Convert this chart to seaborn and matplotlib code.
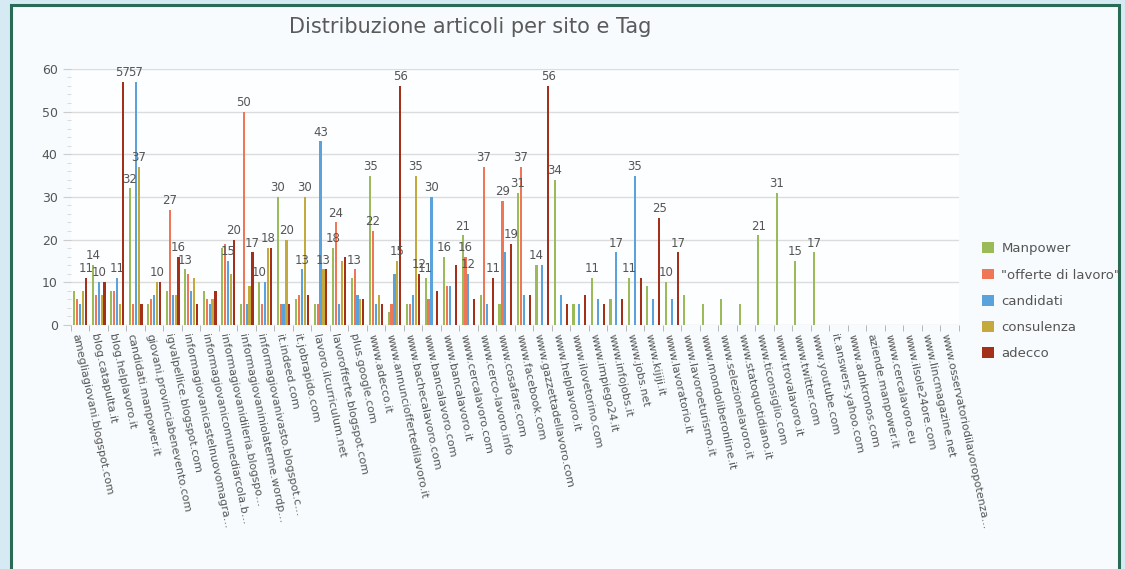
import matplotlib
matplotlib.use('Agg')
import matplotlib.pyplot as plt
from matplotlib.patches import Rectangle
from matplotlib.ticker import MultipleLocator
import pandas as pd
import seaborn as sns

# siti (asse x)
siti = [
    'amegliagiovani.blogspot.com', 'blog.catapulta.it', 'blog.helplavoro.it',
    'candidati.manpower.it', 'giovani.provinciabenevento.com', 'igvalpellice.blogspot.com',
    'informagiovanicastelnuovomagra...', 'informagiovanicomunediarcola.b...',
    'informagiovanidileria.blogspo...', 'informagiovaniniolaterme.wordp...',
    'informagiovanivasto.blogspot.c...', 'it.indeed.com', 'it.jobrapido.com',
    'lavoro.ilcurriculum.net', 'lavorofferte.blogspot.com', 'plus.google.com',
    'www.adecco.it', 'www.annuncioffertedilavoro.it', 'www.bachecalavoro.com',
    'www.bancalavoro.com', 'www.bancalavoro.it', 'www.cercalavoro.com',
    'www.cerco-lavoro.info', 'www.cosafare.com', 'www.facebook.com',
    'www.gazzettadellavoro.com', 'www.helplavoro.it', 'www.ilovetorino.com',
    'www.impiego24.it', 'www.infojobs.it', 'www.jobs.net', 'www.kijiji.it',
    'www.lavoratorio.it', 'www.lavoroeturismo.it', 'www.mondoliberonline.it',
    'www.selezionelavoro.it', 'www.statoquotidiano.it', 'www.ticonsiglio.com',
    'www.trovalavoro.it', 'www.twitter.com', 'www.youtube.com',
    'it.answers.yahoo.com', 'www.adnkronos.com', 'aziende.manpower.it',
    'www.cercalavoro.eu', 'www.ilsole24ore.com', 'www.lincmagazine.net',
    'www.osservatoriodilavoropotenza...',
]

# valori per tag
manpower = [8, 14, 8, 32, 5, 8, 13, 8, 18, 5, 10, 30, 6, 5, 18, 11, 35, 3, 5, 11,
            16, 21, 7, 5, 31, 14, 34, 5, 11, 6, 11, 9, 10, 7, 5, 6, 5, 21, 31, 15,
            17, 0, 0, 0, 0, 0, 0, 0]
offerte = [6, 7, 8, 5, 6, 27, 12, 6, 19, 50, 5, 5, 7, 5, 24, 13, 22, 5, 5, 6,
           9, 16, 37, 29, 37, 0, 0, 0, 0, 0, 0, 0, 0, 0, 0, 0, 0, 0, 0, 0,
           0, 0, 0, 0, 0, 0, 0, 0]
candidati = [5, 10, 11, 57, 7, 7, 8, 5, 15, 5, 10, 5, 13, 43, 5, 7, 5, 12, 7, 30,
             9, 12, 5, 17, 7, 14, 7, 5, 6, 17, 35, 6, 6, 0, 0, 0, 0, 0, 0, 0,
             0, 0, 0, 0, 0, 0, 0, 0]
consulenza = [8, 7, 5, 37, 10, 7, 11, 6, 12, 9, 18, 20, 30, 13, 15, 6, 7, 15, 35, 0,
              0, 0, 0, 0, 0, 0, 0, 0, 0, 0, 0, 0, 0, 0, 0, 0, 0, 0, 0, 0,
              0, 0, 0, 0, 0, 0, 0, 0]
adecco = [11, 10, 57, 5, 10, 16, 5, 8, 20, 17, 18, 5, 7, 13, 16, 6, 5, 56, 12, 8,
          14, 6, 11, 19, 7, 56, 5, 7, 5, 6, 11, 25, 17, 0, 0, 0, 0, 0, 0, 0,
          0, 0, 0, 0, 0, 0, 0, 0]

serie = ['Manpower', '"offerte di lavoro"', 'candidati', 'consulenza', 'adecco']
colori = ['#9bbb59', '#ef7656', '#5aa2db', '#c4aa3c', '#a5301a']

valori = [manpower, offerte, candidati, consulenza, adecco]
df = pd.DataFrame({
    'sito': siti * len(serie),
    'tag': [s for s in serie for _ in siti],
    'articoli': [v for lista in valori for v in lista],
})

fig = plt.figure(figsize=(11.25, 5.69), dpi=100, facecolor='#d6eaf4')
# cornice verde (dietro agli assi)
fig.patches.append(Rectangle((11 / 1125, -0.05), 1108 / 1125, 1 - 5 / 569 + 0.05,
                             transform=fig.transFigure, facecolor='#f7fbfd',
                             edgecolor='#2a6b55', linewidth=2.2, zorder=-5))

ax = fig.add_axes([0.063, 0.429, 0.789, 0.45])
ax.set_facecolor('#fdfeff')

sns.barplot(data=df, x='sito', y='articoli', hue='tag', palette=colori,
            hue_order=serie, order=siti, width=0.8, gap=0.3, ax=ax,
            legend=True, saturation=1)

# etichette dei valori: solo >= 10, e non troppo vicine a un'altra del gruppo
mostra = [[False] * len(siti) for _ in serie]
for i in range(len(siti)):
    tenuti = []
    for k in sorted(range(len(serie)), key=lambda k: -valori[k][i]):
        v = valori[k][i]
        if v >= 10 and all(abs(v - t) > 3 for t in tenuti):
            mostra[k][i] = True
            tenuti.append(v)

for cont, lista, m in zip(ax.containers, valori, mostra):
    ax.bar_label(cont, labels=[str(v) if ok else '' for v, ok in zip(lista, m)],
                 padding=2, fontsize=8.5, color='#555555')

ax.set_xlim(-0.5, len(siti) - 0.5)
ax.set_ylim(0, 60)
ax.yaxis.set_major_locator(MultipleLocator(10))
ax.yaxis.set_minor_locator(MultipleLocator(2))
ax.grid(axis='y', color='#dcdcdc', linewidth=1)
ax.set_axisbelow(True)
for s in ax.spines.values():
    s.set_visible(False)

ax.set_xticks(range(len(siti)))
ax.set_xticklabels(siti, rotation=-78, ha='left', va='top', rotation_mode='anchor',
                   fontsize=8, color='#555555')
ax.set_xticks([i - 0.5 for i in range(len(siti) + 1)], minor=True)
ax.tick_params(axis='x', which='major', length=0, pad=6)
ax.tick_params(axis='x', which='minor', length=4, color='#aaaaaa')
ax.tick_params(axis='y', which='major', length=6, color='#cccccc', labelsize=9,
               labelcolor='#555555')
ax.tick_params(axis='y', which='minor', length=3, color='#d5d5d5')
ax.set_xlabel('')
ax.set_ylabel('')

handles, labels = ax.get_legend_handles_labels()
ax.get_legend().remove()
fig.legend(handles, labels, loc='upper left', bbox_to_anchor=(0.862, 0.595),
           frameon=False, fontsize=9.5, labelcolor='#555555', handlelength=0.9,
           handleheight=0.9, labelspacing=1.0, handletextpad=0.6)

fig.text(0.418, 0.952, 'Distribuzione articoli per sito e Tag', ha='center', va='center',
         fontsize=15, color='#5a5a5a')

fig.savefig('out.png', dpi=100, facecolor=fig.get_facecolor())
